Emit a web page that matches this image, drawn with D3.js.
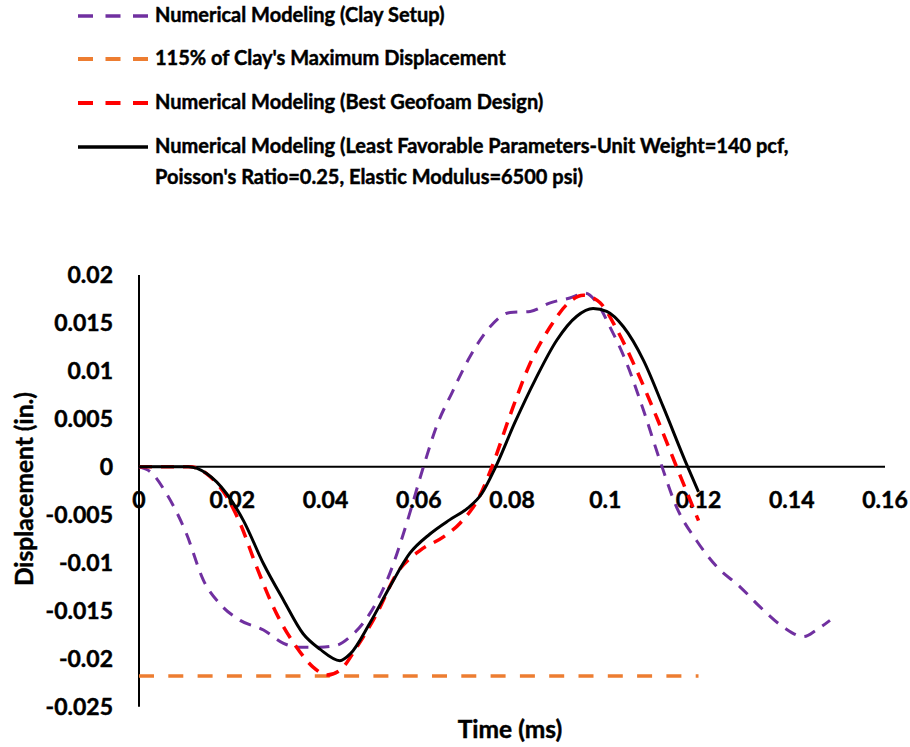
<!DOCTYPE html>
<html><head><meta charset="utf-8">
<script src="https://cdn.jsdelivr.net/npm/d3@7"></script>
<style>
html,body{margin:0;padding:0;background:#fff;}
svg text{font-family:Lato,"Open Sans",sans-serif;font-weight:bold;fill:#000;stroke:#000;stroke-width:0.45px;}
</style></head>
<body><svg id="chart" width="910" height="747"></svg>
<script>
// ---- data ----
const clayT = [0, 0.0024, 0.0059, 0.0102, 0.0138, 0.0174, 0.0217, 0.0267, 0.0310, 0.0345, 0.0388, 0.0424, 0.0453, 0.0495, 0.0538, 0.0574, 0.0610, 0.0638, 0.0672, 0.0710, 0.0753, 0.0796, 0.0839, 0.0882, 0.0924, 0.0957, 0.0982, 0.1010, 0.1046, 0.1082, 0.1117, 0.1153, 0.1196, 0.1239, 0.1289, 0.1332, 0.1382, 0.1425, 0.1453, 0.1482];
const clayV = [0, -0.0005, -0.0028, -0.0070, -0.0118, -0.0143, -0.0160, -0.0170, -0.0184, -0.0188, -0.0188, -0.0186, -0.0177, -0.0153, -0.0111, -0.0059, 0, 0.0042, 0.0078, 0.0115, 0.0146, 0.0161, 0.0162, 0.0171, 0.0176, 0.0181, 0.0171, 0.0146, 0.0108, 0.0059, 0.0007, -0.0042, -0.0077, -0.0104, -0.0125, -0.0146, -0.0167, -0.0177, -0.0170, -0.0160];

const limitT = [0, 0.12];
const limitV = [-0.0218, -0.0218];

const bestT = [0, 0.011, 0.0152, 0.0188, 0.0217, 0.0252, 0.0295, 0.0338, 0.0374, 0.0403, 0.0431, 0.0467, 0.0510, 0.0553, 0.0603, 0.0653, 0.0688, 0.0731, 0.0757, 0.0796, 0.0839, 0.0882, 0.0917, 0.0953, 0.0989, 0.1025, 0.1067, 0.1110, 0.1153, 0.1200];
const bestV = [0, 0, -0.0010, -0.0031, -0.0059, -0.0104, -0.0153, -0.0188, -0.0209, -0.0217, -0.0212, -0.0188, -0.0153, -0.0111, -0.0087, -0.0073, -0.0059, -0.0030, 0, 0.0054, 0.0108, 0.0146, 0.0169, 0.0179, 0.0171, 0.0143, 0.0101, 0.0052, 0, -0.0056];

const leastT = [0, 0.0106, 0.0145, 0.0188, 0.0224, 0.0267, 0.0310, 0.0352, 0.0388, 0.0431, 0.0453, 0.0495, 0.0538, 0.0581, 0.0624, 0.0667, 0.0705, 0.0735, 0.0765, 0.0806, 0.0850, 0.0896, 0.0939, 0.0974, 0.1003, 0.1039, 0.1082, 0.1124, 0.1175, 0.1200];
const leastV = [0, 0, -0.0007, -0.0028, -0.0056, -0.0101, -0.0139, -0.0174, -0.0190, -0.0202, -0.0195, -0.0163, -0.0125, -0.0090, -0.0070, -0.0055, -0.0043, -0.0028, 0, 0.0046, 0.0091, 0.0132, 0.0157, 0.0165, 0.0162, 0.0146, 0.0111, 0.0063, 0.0002, -0.0026];

const xTicks = [0, 0.02, 0.04, 0.06, 0.08, 0.1, 0.12, 0.14, 0.16];
const xTickLabels = ["0", "0.02", "0.04", "0.06", "0.08", "0.1", "0.12", "0.14", "0.16"];
const yTicks = [0.02, 0.015, 0.01, 0.005, 0, -0.005, -0.01, -0.015, -0.02, -0.025];
const yTickLabels = ["0.02", "0.015", "0.01", "0.005", "0", "-0.005", "-0.01", "-0.015", "-0.02", "-0.025"];

const seriesNames = [
  ["Numerical Modeling (Clay Setup)"],
  ["115% of Clay's Maximum Displacement"],
  ["Numerical Modeling (Best Geofoam Design)"],
  ["Numerical Modeling (Least Favorable Parameters-Unit Weight=140 pcf,", "Poisson's Ratio=0.25, Elastic Modulus=6500 psi)"]
];
const xTitle = "Time (ms)";
const yTitle = "Displacement (in.)";

// ---- styles ----
const styles = [
  {color: "#7030A0", width: 3, dash: "12,9"},
  {color: "#ED7D31", width: 3.5, dash: "15,14.3"},
  {color: "#FF0000", width: 3.5, dash: "13,9"},
  {color: "#000000", width: 3, dash: null}
];
const seriesData = [[clayT, clayV], [limitT, limitV], [bestT, bestV], [leastT, leastV]];

const svg = d3.select("#chart");
const x = d3.scaleLinear().domain([0, 0.16]).range([139, 885]);
const y = d3.scaleLinear().domain([-0.025, 0.02]).range([706.7, 275]);

// axes lines
svg.append("line").attr("x1", x(0)).attr("x2", x(0.16)).attr("y1", y(0)).attr("y2", y(0))
  .attr("stroke", "#000").attr("stroke-width", 2);
svg.append("line").attr("x1", x(0)).attr("x2", x(0)).attr("y1", y(0.02)).attr("y2", y(-0.025))
  .attr("stroke", "#000").attr("stroke-width", 2);

// tick labels
svg.append("g").selectAll("text").data(yTicks).join("text")
  .attr("x", 113).attr("y", d => y(d)).attr("dy", "0.35em")
  .attr("text-anchor", "end").style("font-size", "23px")
  .text((d, i) => yTickLabels[i]);
svg.append("g").selectAll("text").data(xTicks).join("text")
  .attr("x", d => x(d)).attr("y", 500).attr("dy", "0.35em")
  .attr("text-anchor", "middle").style("font-size", "23px")
  .text((d, i) => xTickLabels[i]);

// axis titles
svg.append("text").attr("x", 510).attr("y", 729).attr("dy", "0.35em")
  .attr("text-anchor", "middle").style("font-size", "24.5px").text(xTitle);
svg.append("text").attr("transform", "translate(24,489) rotate(-90)").attr("dy", "0.35em")
  .attr("text-anchor", "middle").style("font-size", "24.5px").text(yTitle);

// series
const line = d3.line().x(d => x(d[0])).y(d => y(d[1])).curve(d3.curveMonotoneX);
seriesData.forEach((s, i) => {
  const pts = s[0].map((t, j) => [t, s[1][j]]);
  const p = svg.append("path").datum(pts).attr("d", line)
    .attr("fill", "none").attr("stroke", styles[i].color)
    .attr("stroke-width", styles[i].width).attr("stroke-linejoin", "round");
  if (styles[i].dash) p.attr("stroke-dasharray", styles[i].dash);
});

// legend
const legendRows = [15, 58, 102, 146];
seriesNames.forEach((names, i) => {
  const ly = legendRows[i];
  const l = svg.append("line").attr("x1", 78).attr("x2", 148).attr("y1", ly + 1).attr("y2", ly + 1)
    .attr("stroke", styles[i].color).attr("stroke-width", styles[i].width + 0.5);
  if (styles[i].dash) l.attr("stroke-dasharray", "15,12.5");
  names.forEach((n, k) => {
    svg.append("text").attr("x", 155).attr("y", ly + k * 31).attr("dy", "0.35em")
      .style("font-size", "20px").text(n);
  });
});
</script></body></html>
